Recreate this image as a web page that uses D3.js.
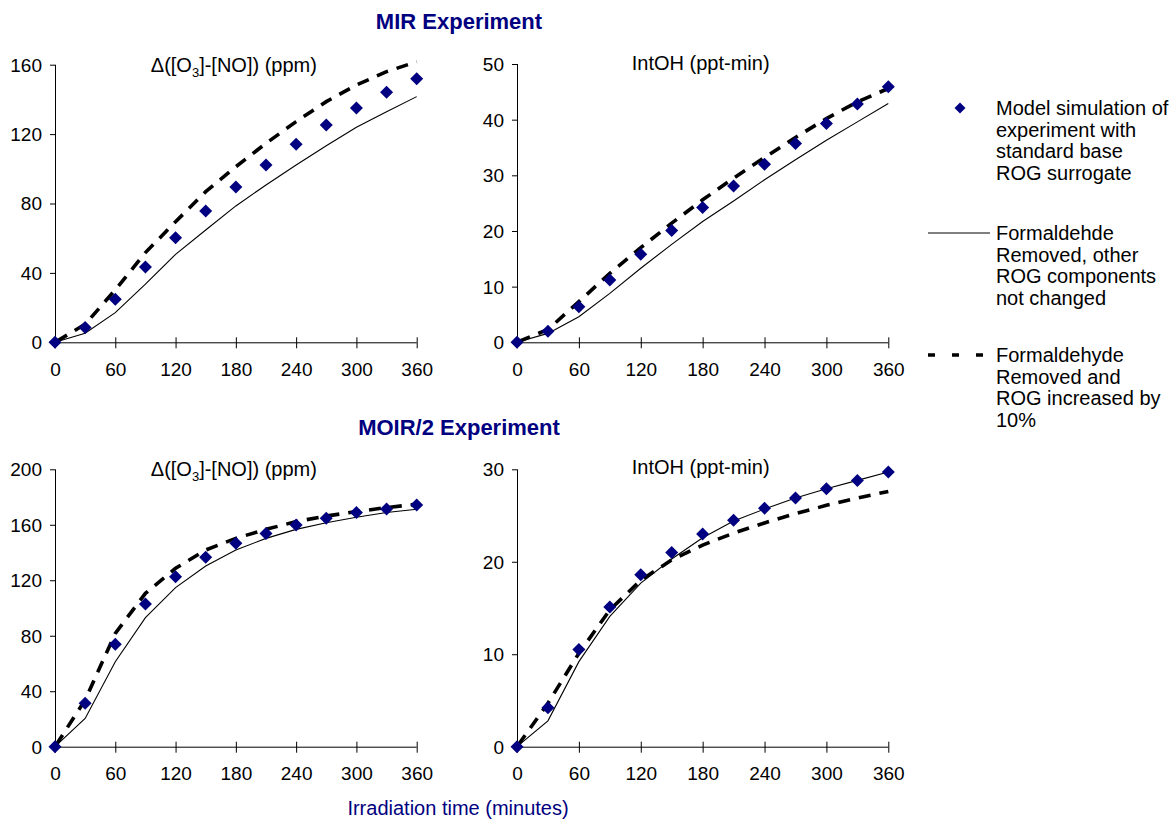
<!DOCTYPE html>
<html>
<head>
<meta charset="utf-8">
<script src="https://cdn.jsdelivr.net/npm/d3@7"></script>
<style>
  html, body { margin: 0; padding: 0; background: #fff; }
  svg { display: block; }
  text { font-family: Arial, "Liberation Sans", sans-serif; }
</style>
</head>
<body>
<svg id="chart" width="1176" height="820"></svg>
<script>
// ---------- data ----------
const times = [0, 30, 60, 90, 120, 150, 180, 210, 240, 270, 300, 330, 360];
const xTicks = [0, 60, 120, 180, 240, 300, 360];

// MIR experiment, Δ([O3]-[NO]) (ppm)
const mirO3Base    = [0, 8.5, 24.8, 43.4, 60.3, 75.7, 89.5, 102.2, 114.1, 125.2, 135.0, 144.1, 151.9];
const mirO3NoHcho  = [0, 5.2, 17.1, 33.5, 50.7, 64.7, 78.6, 90.7, 102.2, 113.3, 123.9, 132.9, 141.6];
const mirO3Plus10  = [0, 10.4, 30.2, 51.7, 69.5, 86.8, 101.2, 114.7, 127.2, 138.7, 148.3, 156.0, 161.7];
const mirO3Ticks   = [0, 40, 80, 120, 160];

// MIR experiment, IntOH (ppt-min)
const mirOHBase    = [0, 2.0, 6.4, 11.2, 15.8, 20.1, 24.2, 28.1, 32.0, 35.7, 39.3, 42.8, 45.9];
const mirOHNoHcho  = [0, 1.6, 4.6, 8.8, 13.3, 17.6, 21.7, 25.4, 29.2, 32.8, 36.3, 39.6, 42.9];
const mirOHPlus10  = [0, 2.3, 7.3, 12.4, 17.0, 21.4, 25.6, 29.5, 33.2, 36.8, 40.2, 43.2, 45.6];
const mirOHTicks   = [0, 10, 20, 30, 40, 50];

// MOIR/2 experiment, Δ([O3]-[NO]) (ppm)
const moirO3Base   = [0, 31.3, 73.8, 102.9, 122.6, 136.5, 146.6, 153.8, 159.9, 164.7, 168.8, 171.4, 174.3];
const moirO3NoHcho = [0, 20.4, 61.3, 93.0, 114.7, 130.3, 141.8, 150.2, 156.7, 161.5, 165.4, 168.8, 171.2];
const moirO3Plus10 = [0, 33.7, 81.7, 110.6, 128.6, 141.8, 150.2, 156.7, 162.3, 166.3, 169.5, 172.4, 174.8];
const moirO3Ticks  = [0, 40, 80, 120, 160, 200];

// MOIR/2 experiment, IntOH (ppt-min)
const moirOHBase   = [0, 4.2, 10.5, 15.1, 18.6, 21.0, 23.0, 24.5, 25.8, 26.9, 27.9, 28.8, 29.7];
const moirOHNoHcho = [0, 2.8, 9.2, 14.1, 17.7, 20.3, 22.6, 24.4, 25.7, 26.9, 27.9, 28.8, 29.7];
const moirOHPlus10 = [0, 4.7, 10.1, 14.8, 18.0, 20.2, 21.8, 23.1, 24.2, 25.2, 26.1, 26.9, 27.6];
const moirOHTicks  = [0, 10, 20, 30];

const experimentTitles = ["MIR Experiment", "MOIR/2 Experiment"];
const xAxisTitle = "Irradiation time (minutes)";
const legendLabels = [
  ["Model simulation of", "experiment with", "standard base", "ROG surrogate"],
  ["Formaldehde", "Removed, other", "ROG components", "not changed"],
  ["Formaldehyde", "Removed and", "ROG increased by", "10%"]
];

// ---------- drawing ----------
const svg = d3.select("#chart");
const NAVY = "#000080";

const panels = [
  { title: "o3", base: mirO3Base, noh: mirO3NoHcho, p10: mirO3Plus10, ticks: mirO3Ticks,
    x0: 55, x1: 416.7, y0: 342.3, y1: 64.7, ty: 65 },
  { title: "oh", base: mirOHBase, noh: mirOHNoHcho, p10: mirOHPlus10, ticks: mirOHTicks,
    x0: 517, x1: 888.3, y0: 342.3, y1: 64, ty: 63 },
  { title: "o3", base: moirO3Base, noh: moirO3NoHcho, p10: moirO3Plus10, ticks: moirO3Ticks,
    x0: 55, x1: 416.7, y0: 746.7, y1: 469.3, ty: 469 },
  { title: "oh", base: moirOHBase, noh: moirOHNoHcho, p10: moirOHPlus10, ticks: moirOHTicks,
    x0: 517, x1: 888.3, y0: 746.7, y1: 469.3, ty: 467 }
];

const diamond = r => `M0,${-r}L${r},0L0,${r}L${-r},0Z`;

panels.forEach(p => {
  const x = d3.scaleLinear().domain([0, 360]).range([p.x0, p.x1]);
  const y = d3.scaleLinear().domain([0, d3.max(p.ticks)]).range([p.y0, p.y1]);
  const g = svg.append("g");

  // y axis
  const ya = g.append("g").attr("transform", `translate(${p.x0},0)`)
    .call(d3.axisLeft(y).tickValues(p.ticks).tickSize(5).tickPadding(0).tickFormat(d3.format("d")));
  ya.select(".domain").attr("stroke", "#000").attr("d", `M0.5,${p.y0}V${p.y1}`);
  ya.selectAll(".tick line").attr("stroke", "#000");
  ya.selectAll(".tick text").attr("x", -13).attr("dy", "0.34em")
    .style("font-size", "19px").attr("fill", "#000").attr("font-family", null);

  // x axis
  const xa = g.append("g").attr("transform", `translate(0,${p.y0})`)
    .call(d3.axisBottom(x).tickValues(xTicks).tickSize(6).tickPadding(0).tickFormat(d3.format("d")));
  xa.select(".domain").attr("stroke", "#000").attr("d", `M${p.x0},0.5H${p.x1}`);
  xa.selectAll(".tick line").attr("stroke", "#000").attr("y1", -5).attr("y2", 6);
  xa.selectAll(".tick text").attr("y", 20).attr("dy", "0.71em")
    .style("font-size", "19px").attr("fill", "#000").attr("font-family", null);

  // panel title
  const cx = (p.x0 + p.x1) / 2 - 2;
  const t = g.append("text").attr("x", cx).attr("y", p.ty).attr("dy", "0.35em")
    .attr("text-anchor", "middle").style("font-size", "20px").attr("fill", "#000");
  if (p.title === "o3") {
    t.append("tspan").text("\u0394([O");
    t.append("tspan").text("3").style("font-size", "13px").attr("dy", 5);
    t.append("tspan").text("]-[NO]) (ppm)").attr("dy", -5);
  } else {
    t.text("IntOH (ppt-min)");
  }

  const line = d3.line().x((d, i) => x(times[i])).y(d => y(d));

  // solid line: formaldehyde removed
  g.append("path").datum(p.noh).attr("d", line)
    .attr("fill", "none").attr("stroke", "#000").attr("stroke-width", 1.1);

  // dashed: formaldehyde removed and ROG +10%
  g.append("path").datum(p.p10).attr("d", line)
    .attr("fill", "none").attr("stroke", "#000").attr("stroke-width", 3.6)
    .attr("stroke-dasharray", "12,9").attr("stroke-dashoffset", 19);

  // diamonds: base
  g.selectAll("path.pt").data(p.base).enter().append("path").attr("class", "pt")
    .attr("d", diamond(6.5))
    .attr("transform", (d, i) => `translate(${x(times[i])},${y(d)})`)
    .attr("fill", NAVY);
});

// experiment titles
svg.append("text").attr("x", 459).attr("y", 21).attr("dy", "0.35em").attr("text-anchor", "middle")
  .style("font-size", "22px").style("font-weight", "bold").attr("fill", NAVY).text(experimentTitles[0]);
svg.append("text").attr("x", 459).attr("y", 427).attr("dy", "0.35em").attr("text-anchor", "middle")
  .style("font-size", "22px").style("font-weight", "bold").attr("fill", NAVY).text(experimentTitles[1]);

// x axis title
svg.append("text").attr("x", 458).attr("y", 808).attr("dy", "0.35em").attr("text-anchor", "middle")
  .style("font-size", "20px").attr("fill", NAVY).text(xAxisTitle);

// legend
const leg = svg.append("g");
const legTop = [108, 233, 355];
const lineH = 21.7;
legendLabels.forEach((lines, k) => {
  const tx = leg.append("text").attr("x", 996).attr("y", legTop[k]).attr("dy", "0.35em")
    .style("font-size", "20px").attr("fill", "#000");
  lines.forEach((s, j) => tx.append("tspan").attr("x", 996).attr("dy", j === 0 ? "0.35em" : lineH).text(s));
});
leg.append("path").attr("d", diamond(5.5)).attr("transform", `translate(960,${legTop[0]})`).attr("fill", NAVY);
leg.append("line").attr("x1", 928).attr("x2", 990).attr("y1", legTop[1]).attr("y2", legTop[1])
  .attr("stroke", "#000").attr("stroke-width", 1.1);
leg.append("line").attr("x1", 928).attr("x2", 983).attr("y1", legTop[2]).attr("y2", legTop[2])
  .attr("stroke", "#000").attr("stroke-width", 3.6).attr("stroke-dasharray", "7,17");
</script>
</body>
</html>
